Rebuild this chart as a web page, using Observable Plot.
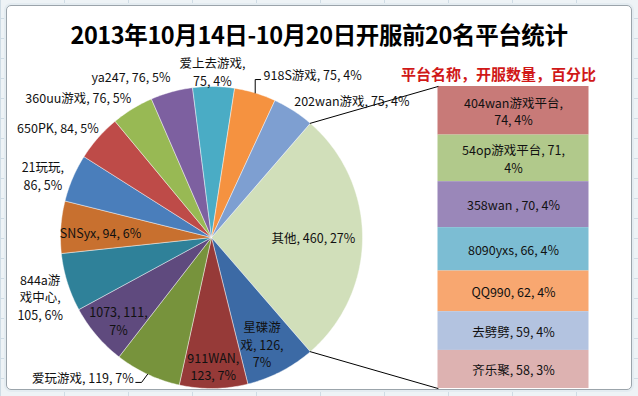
<!DOCTYPE html>
<html><head><meta charset="utf-8">
<script src="https://cdn.jsdelivr.net/npm/d3@7"></script>
<script src="https://cdn.jsdelivr.net/npm/@observablehq/plot@0.6"></script>
<style>
html,body{margin:0;padding:0;}
body{width:638px;height:396px;overflow:hidden;background:#EEF3F6;font-family:"Noto Sans CJK SC","Noto Sans",sans-serif;}
#wrap{position:relative;width:638px;height:396px;
 background-image:linear-gradient(#CFDCE5 1px,transparent 1px),linear-gradient(90deg,#CFDCE5 1px,transparent 1px);
 background-size:64px 20px;background-position:0 -2px;}
#frame{position:absolute;left:6px;top:5px;width:624px;height:383px;background:#fff;border:1px solid #9BA4AB;border-radius:5px;box-shadow:0 0 0 2px #E4ECF1;}
#title{position:absolute;left:0;top:19px;width:638px;text-align:center;font-weight:bold;font-size:23.5px;line-height:30px;color:#000;letter-spacing:-0.4px;}
#chart{position:absolute;left:0;top:0;}
</style></head><body>
<div id="wrap"><div id="frame"></div><div id="title"></div><div id="chart"></div></div>
<script>
// ---- data ----
const titleText = "2013年10月14日-10月20日开服前20名平台统计";
const headingText = "平台名称，开服数量，百分比";
const mainNames = ["星碟游戏","911WAN","爱玩游戏","1073","844a游戏中心","SNSyx","21玩玩","650PK","360uu游戏","ya247","爱上去游戏","918S游戏","202wan游戏"];
const mainValues = [126,123,119,111,105,94,86,84,76,76,75,75,75];
const mainColors = ["#3C6AA5","#963A38","#77933C","#5F4A7E","#2F8199","#C8702F","#4A7EBB","#BE4B48","#98B954","#7D60A0","#4AACC5","#F59240","#7E9FD1"];
const otherName = "其他";
const otherColor = "#D1DFBA";
const otherNames = ["404wan游戏平台","54op游戏平台","358wan ","8090yxs","QQ990","去劈劈","齐乐聚"];
const otherValues = [74,71,70,66,62,59,58];
const otherColors = ["#C87A78","#B1C98B","#9A87B9","#7CBDD3","#F8A770","#B3C3E0","#DDB2B1"];

// ---- layout (label placement like Excel's manual label positions) ----
const R = 151, CX = 211, CY = 237, W = 638, H = 396;
const px = v => v / R;
// r: radial factor, da: angle nudge (deg), anchor, breaks: char indices for line breaks, leader
const labelLayout = {
  "其他": {r:0.675, da:0, anchor:"middle", breaks:[]},
  "星碟游戏": {r:0.78, da:2, anchor:"middle", breaks:[3,10]},
  "911WAN": {r:0.85, da:0, anchor:"middle", breaks:[7]},
  "爱玩游戏": {r:1.06, da:4, anchor:"end", breaks:[], leader:"left"},
  "1073": {r:0.825, da:-1.3, anchor:"middle", breaks:[10]},
  "844a游戏中心": {r:1.2, da:-1.7, anchor:"middle", breaks:[5,10]},
  "SNSyx": {r:0.736, da:-1.4, anchor:"middle", breaks:[]},
  "21玩玩": {r:1.19, da:-3, anchor:"middle", breaks:[5]},
  "650PK": {r:1.25, da:-5.8, anchor:"middle", breaks:[]},
  "360uu游戏": {r:1.28, da:-12, anchor:"middle", breaks:[]},
  "ya247": {r:1.19, da:-11.3, anchor:"middle", breaks:[]},
  "爱上去游戏": {r:1.10, da:-0.5, anchor:"middle", breaks:[6]},
  "918S游戏": {r:1.133, da:0.9, anchor:"start", breaks:[], leader:"right"},
  "202wan游戏": {r:1.30, da:12.8, anchor:"middle", breaks:[]}
};
const barBreaks = {"404wan游戏平台":[11], "54op游戏平台":[13]};

// ---- computation ----
const otherTotal = d3.sum(otherValues);
const total = d3.sum(mainValues) + otherTotal;
const deg = 360 / total;
const pct = v => Math.round(v / total * 100) + "%";
const rad = a => a * Math.PI / 180;
const polar = (r, a) => [r * Math.sin(rad(a)), r * Math.cos(rad(a))];
const wrap = (s, br) => { let out = "", last = 0; for (const b of br) { out += s.slice(last, b).replace(/\s+$/,"") + "\n"; last = b; while (s[last] === " ") last++; } return out + s.slice(last); };

const slices = [];
const otherStart = 90 - otherTotal * deg / 2;
slices.push({name: otherName, value: otherTotal, color: otherColor, a0: otherStart, a1: otherStart + otherTotal * deg});
let acc = slices[0].a1;
mainNames.forEach((n, i) => { const a1 = acc + mainValues[i] * deg; slices.push({name: n, value: mainValues[i], color: mainColors[i], a0: acc, a1}); acc = a1; });

const piePts = [];
for (const s of slices) {
  piePts.push({name: s.name, color: s.color, x: 0, y: 0});
  const n = Math.max(2, Math.ceil(s.a1 - s.a0));
  for (let k = 0; k <= n; k++) { const [x, y] = polar(1, s.a0 + (s.a1 - s.a0) * k / n); piePts.push({name: s.name, color: s.color, x, y}); }
  piePts.push({name: s.name, color: s.color, x: 0, y: 0});
}

const labels = [], leaders = [];
for (const s of slices) {
  const L = labelLayout[s.name];
  const mid = (s.a0 + s.a1) / 2;
  const [x, y] = polar(L.r, mid + L.da);
  labels.push({x, y, anchor: L.anchor, text: wrap(`${s.name}, ${s.value}, ${pct(s.value)}`, L.breaks)});
  if (L.leader) {
    const [ex, ey] = polar(1, mid);
    const ly = y - px(5);
    const pts = L.leader === "left"
      ? [[ex, ey], [ex - px(6), ly], [x + px(2), ly]]
      : [[ex, ey], [ex, ly], [x - px(3), ly]];
    pts.forEach(([a, b]) => leaders.push({id: s.name, x: a, y: b}));
  }
}

// stacked bar of "other"
const barX1 = 1.5, barX2 = 2.5, barTop = 1, barH = 2;
const k = barH / otherTotal;
let cum = 0;
const bars = otherNames.map((n, i) => {
  const y1 = barTop - cum * k; cum += otherValues[i]; const y2 = barTop - cum * k;
  return {name: n, value: otherValues[i], color: otherColors[i], y1, y2, ym: (y1 + y2) / 2,
          text: wrap(`${n}, ${otherValues[i]}, ${pct(otherValues[i])}`, barBreaks[n] || [])};
});

const [sx, sy] = polar(1, slices[0].a0);
const [exx, eyy] = polar(1, slices[0].a1);
const connectors = [
  {id: "top", x: sx, y: sy}, {id: "top", x: barX1, y: barTop},
  {id: "bot", x: exx, y: eyy}, {id: "bot", x: barX1, y: barTop - barH}
];

const font = {fontSize: 12.5, fontFamily: '"Noto Sans CJK SC", sans-serif', fill: "#111", lineHeight: 1.4};

document.getElementById("title").textContent = titleText;

const chart = Plot.plot({
  width: W, height: H, margin: 0,
  x: {domain: [px(-CX), px(W - CX)], axis: null},
  y: {domain: [px(-(H - CY)), px(CY)], axis: null},
  color: {type: "identity"},
  style: {background: "transparent", overflow: "visible"},
  marks: [
    Plot.line(piePts, {x: "x", y: "y", z: "name", fill: "color", stroke: "#ffffff", strokeOpacity: 0.55, strokeWidth: 0.8, curve: "linear"}),
    Plot.rect(bars, {x1: barX1, x2: barX2, y1: "y1", y2: "y2", fill: "color"}),
    Plot.line(connectors, {x: "x", y: "y", z: "id", stroke: "#000", strokeWidth: 1}),
    Plot.line(leaders, {x: "x", y: "y", z: "id", stroke: "#000", strokeWidth: 1}),
    Plot.text(labels.filter(d => d.anchor === "middle"), {x: "x", y: "y", text: "text", textAnchor: "middle", ...font}),
    Plot.text(labels.filter(d => d.anchor === "start"), {x: "x", y: "y", text: "text", textAnchor: "start", ...font}),
    Plot.text(labels.filter(d => d.anchor === "end"), {x: "x", y: "y", text: "text", textAnchor: "end", ...font}),
    Plot.text(bars, {x: (barX1 + barX2) / 2, y: "ym", text: "text", textAnchor: "middle", ...font, lineHeight: 1.4}),
    Plot.text([headingText], {x: (barX1 + barX2) / 2, y: barTop, dx: -15, dy: -11, text: d => d, textAnchor: "middle",
      fontSize: 15, fontWeight: "bold", fill: "#D01818", fontFamily: '"Noto Sans CJK SC", sans-serif'})
  ]
});
document.getElementById("chart").appendChild(chart);
</script>
</body></html>
